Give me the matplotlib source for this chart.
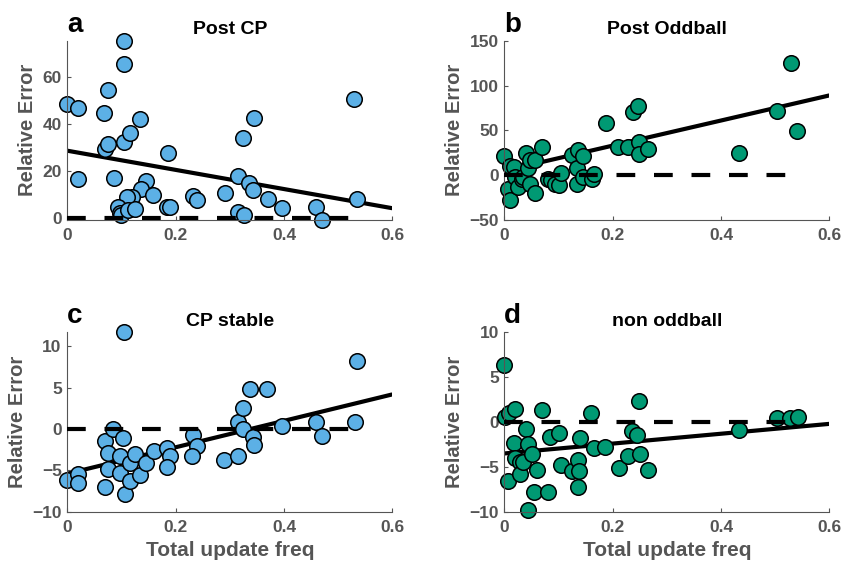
import numpy as np
from matplotlib import pyplot as plt

# Post CP (panel a)
post_cp_x = [0.000, 0.020, 0.020, 0.068, 0.075, 0.070, 0.076, 0.086, 0.105, 0.105,
             0.104, 0.116, 0.135, 0.186, 0.145, 0.136, 0.120, 0.110, 0.094, 0.097,
             0.100, 0.113, 0.125, 0.159, 0.185, 0.190, 0.232, 0.239, 0.291, 0.315,
             0.335, 0.343, 0.325, 0.345, 0.315, 0.326, 0.370, 0.396, 0.460, 0.470,
             0.530, 0.534]
post_cp_y = [48.7, 46.8, 16.6, 44.7, 54.6, 29.5, 31.5, 17.2, 75.6, 65.7,
             32.6, 36.2, 42.3, 27.9, 15.8, 12.6, 9.0, 8.9, 4.9, 2.1,
             1.4, 3.5, 3.8, 9.9, 5.0, 4.7, 9.4, 7.8, 10.6, 18.2,
             15.2, 12.1, 34.0, 42.6, 2.8, 1.4, 8.2, 4.4, 5.0, -0.7,
             50.6, 8.1]

# Post Oddball (panel b)
post_odd_x = [0.000, 0.006, 0.010, 0.010, 0.018, 0.020, 0.026, 0.032, 0.035, 0.040,
              0.044, 0.047, 0.048, 0.056, 0.057, 0.069, 0.081, 0.087, 0.094, 0.100,
              0.104, 0.125, 0.136, 0.134, 0.134, 0.146, 0.146, 0.161, 0.166, 0.187,
              0.210, 0.229, 0.237, 0.246, 0.249, 0.249, 0.266, 0.434, 0.504, 0.530,
              0.540]
post_odd_y = [21.5, -14.9, -27.9, 10.0, 9.0, -1.9, -13.0, -3.7, -1.9, 25.0,
              7.5, -9.3, 16.8, -19.5, 16.8, 31.0, -3.7, -5.6, -9.3, -11.2,
              1.9, 22.3, 28.5, 7.5, -9.3, 21.2, -1.9, -3.7, 1.0, 58.5,
              32.0, 31.6, 70.0, 77.1, 37.2, 23.5, 28.7, 24.9, 71.9, 124.7,
              49.5]

# CP stable (panel c)
cp_stable_x = [0.000, 0.020, 0.020, 0.070, 0.070, 0.075, 0.075, 0.085, 0.097, 0.098,
               0.103, 0.105, 0.107, 0.116, 0.116, 0.125, 0.135, 0.145, 0.160, 0.185,
               0.190, 0.185, 0.232, 0.240, 0.230, 0.289, 0.315, 0.316, 0.325, 0.325,
               0.338, 0.343, 0.345, 0.368, 0.396, 0.460, 0.470, 0.531, 0.534]
cp_stable_y = [-6.2, -5.4, -6.5, -7.0, -1.4, -2.9, -4.8, 0.0, -5.3, -3.3,
               -1.1, 11.7, -7.8, -6.3, -4.1, -3.0, -5.6, -4.1, -2.6, -2.3,
               -3.3, -4.6, -0.7, -2.0, -3.3, -3.8, -3.2, 0.8, 2.6, 0.0,
               4.9, -0.9, -1.9, 4.9, 0.4, 0.8, -0.8, 0.8, 8.2]

# non oddball (panel d)
non_odd_x = [0.000, 0.002, 0.008, 0.019, 0.017, 0.007, 0.020, 0.029, 0.029, 0.035,
             0.040, 0.044, 0.051, 0.060, 0.044, 0.055, 0.081, 0.070, 0.085, 0.101,
             0.105, 0.124, 0.136, 0.137, 0.136, 0.140, 0.160, 0.165, 0.185, 0.211,
             0.229, 0.235, 0.245, 0.249, 0.251, 0.266, 0.434, 0.504, 0.528, 0.542]
non_odd_y = [6.4, 0.6, 1.0, 1.5, -2.3, -6.6, -4.0, -4.4, -5.8, -4.5,
             -0.8, -2.5, -3.6, -5.3, -9.8, -7.8, -7.8, 1.3, -1.7, -1.2,
             -4.8, -5.5, -4.2, -5.5, -7.2, -1.75, 1.0, -2.9, -2.8, -5.1,
             -3.8, -1.0, -1.4, 2.4, -3.6, -5.3, -0.9, 0.4, 0.5, 0.6]

# regression lines (intercept, slope)
fit_a = (28.8, -40.8)
fit_b = (5.0, 140.0)
fit_c = (-5.4, 16.0)
fit_d = (-3.5, 5.5)

blue = (0.36, 0.69, 0.90)
green = (0.0, 0.60, 0.45)
gray = '#555555'

plt.rcParams['font.family'] = ['Liberation Sans', 'DejaVu Sans']
plt.rcParams['font.weight'] = 'bold'


def panel(ax, x, y, fit, color, letter, title, yticks, ylim, xlabel=False):
    ax.scatter(x, y, s=125, facecolor=color, edgecolor='black', linewidth=1.1,
               zorder=2, clip_on=False)
    xs = np.array([0, 0.6])
    ax.plot(xs, fit[0] + fit[1] * xs, color='black', lw=3, zorder=1,
            solid_capstyle='butt')
    ax.plot([0, max(x)], [0, 0], color='black', lw=3, ls=(0, (4.5, 4.5)), zorder=3)

    ax.set_xlim(0, 0.6)
    ax.set_ylim(*ylim)
    ax.set_xticks([0, 0.2, 0.4, 0.6])
    ax.set_xticklabels(['0', '0.2', '0.4', '0.6'])
    ax.set_yticks(yticks)
    for side in ['top', 'right']:
        ax.spines[side].set_visible(False)
    for side in ['left', 'bottom']:
        ax.spines[side].set_color(gray)
        ax.spines[side].set_linewidth(0.8)
    ax.tick_params(direction='in', length=3, width=0.8, color=gray,
                   labelcolor=gray, labelsize=12.5)
    ax.tick_params(axis='x', pad=6)
    ax.tick_params(axis='y', pad=4)
    for lab in ax.get_xticklabels() + ax.get_yticklabels():
        lab.set_fontweight('bold')

    ax.set_title(title, fontsize=14, fontweight='bold', color='black', pad=4.8)
    ax.set_ylabel('Relative Error', fontsize=14.5, fontweight='bold', color=gray, labelpad=4)
    if xlabel:
        ax.set_xlabel('Total update freq', fontsize=15, fontweight='bold', color=gray,
                      labelpad=4)
    ax.text(0, 1.05, letter, transform=ax.transAxes, fontsize=20, fontweight='bold',
            ha='left', va='baseline', color='black')


fig = plt.figure(figsize=(8.42, 5.65), dpi=100)
w, h = 0.386, 0.3173
ax_a = fig.add_axes([0.0799, 0.6106, w, h])
ax_b = fig.add_axes([0.599, 0.6106, w, h])
ax_c = fig.add_axes([0.0799, 0.0943, w, h])
ax_d = fig.add_axes([0.599, 0.0943, w, h])

panel(ax_a, post_cp_x, post_cp_y, fit_a, blue, 'a', 'Post CP',
      [0, 20, 40, 60], (min(post_cp_y), max(post_cp_y)))
panel(ax_b, post_odd_x, post_odd_y, fit_b, green, 'b', 'Post Oddball',
      [-50, 0, 50, 100, 150], (-50, 150))
panel(ax_c, cp_stable_x, cp_stable_y, fit_c, blue, 'c', 'CP stable',
      [-10, -5, 0, 5, 10], (-10, max(cp_stable_y)), xlabel=True)
panel(ax_d, non_odd_x, non_odd_y, fit_d, green, 'd', 'non oddball',
      [-10, -5, 0, 5, 10], (-10, 10), xlabel=True)

fig.savefig('out.png', dpi=100)
